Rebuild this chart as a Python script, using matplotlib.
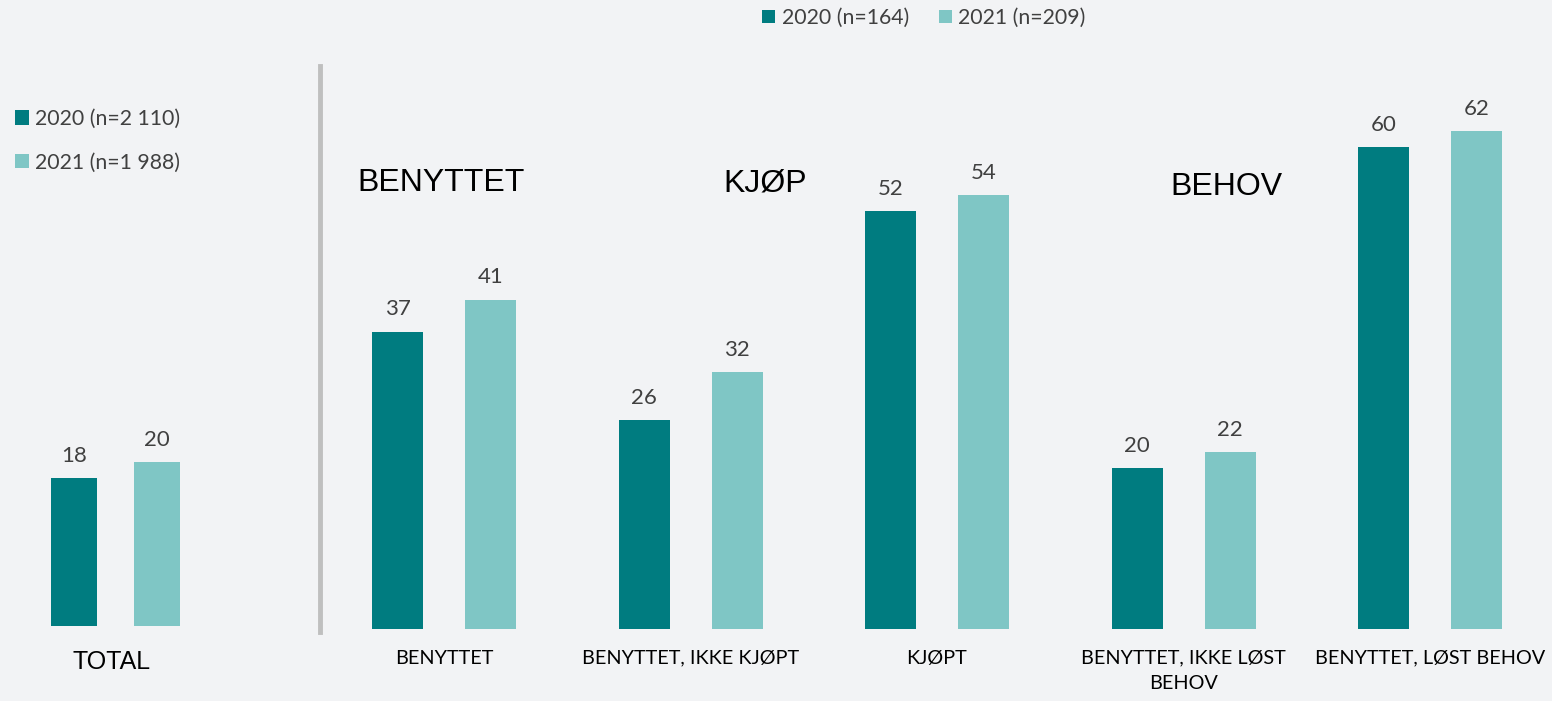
import matplotlib
matplotlib.use("Agg")
import matplotlib.pyplot as plt
from matplotlib.patches import Patch

# Data
total_labels = ["TOTAL"]
total_2020 = [18]
total_2021 = [20]

categories = ["BENYTTET", "BENYTTET, IKKE KJØPT", "KJØPT",
              "BENYTTET, IKKE LØST\nBEHOV", "BENYTTET, LØST BEHOV"]
values_2020 = [37, 26, 52, 20, 60]
values_2021 = [41, 32, 54, 22, 62]

section_titles = ["BENYTTET", "KJØP", "BEHOV"]

legend_total = ["2020 (n=2 110)", "2021 (n=1 988)"]
legend_groups = ["2020 (n=164)", "2021 (n=209)"]

# Style
BG = "#F2F3F5"
DARK = "#007C80"
LIGHT = "#7FC6C5"
VALUE_COLOR = "#404040"
BODY_FONT = ["Lato", "DejaVu Sans"]
HEAD_FONT = ["Liberation Sans", "DejaVu Sans"]

W, H = 1552, 701
fig = plt.figure(figsize=(W / 100, H / 100), dpi=100, facecolor=BG)


def px_axes(left, top, right, bottom):
    return fig.add_axes([left / W, 1 - bottom / H, (right - left) / W, (bottom - top) / H])


def style_axes(ax):
    ax.set_facecolor("none")
    for s in ax.spines.values():
        s.set_visible(False)
    ax.set_yticks([])
    ax.tick_params(axis="x", length=0)


def label_bars(ax, bars, vals):
    for b, v in zip(bars, vals):
        ax.annotate(f"{v}", (b.get_x() + b.get_width() / 2, v),
                    xytext=(0, 9), textcoords="offset points",
                    ha="center", va="bottom", fontsize=16,
                    color=VALUE_COLOR, family=BODY_FONT)


# Left panel: total
axl = px_axes(0, 626 - 70 * 8.2, 320, 626)
style_axes(axl)
axl.set_ylim(0, 70)
axl.set_xlim(-74 / 83, (320 - 74) / 83)
wl = 46 / 83
b1 = axl.bar([0], total_2020, width=wl, color=DARK)
b2 = axl.bar([1], total_2021, width=wl, color=LIGHT)
label_bars(axl, b1, total_2020)
label_bars(axl, b2, total_2021)
axl.set_xticks([0.45])
axl.set_xticklabels(total_labels, fontsize=18, family=HEAD_FONT, color="black")
axl.tick_params(axis="x", pad=17)

# Right panel: groups
axr = px_axes(320.75, 629 - 70 * 8.03, 1553.25, 629)
style_axes(axr)
axr.set_ylim(0, 70)
axr.set_xlim(-0.5, len(categories) - 0.5)
off = 46.5 / 246.5
wr = 51 / 246.5
xs = list(range(len(categories)))
r1 = axr.bar([x - off for x in xs], values_2020, width=wr, color=DARK)
r2 = axr.bar([x + off for x in xs], values_2021, width=wr, color=LIGHT)
label_bars(axr, r1, values_2020)
label_bars(axr, r2, values_2021)
axr.set_xticks(xs)
axr.set_xticklabels(categories, fontsize=14.3, family=BODY_FONT, color="black",
                    linespacing=1.55)
axr.tick_params(axis="x", pad=15)

# Section headers
for title, xp, yp in zip(section_titles, [357, 723, 1170], [183, 183, 187]):
    fig.text(xp / W, 1 - yp / H, title, fontsize=23, family=HEAD_FONT,
             color="black", ha="left", va="center")

# Vertical separator
fig.add_artist(plt.Line2D([320 / W, 320 / W], [1 - 66 / H, 1 - 632 / H],
                          color="#BFBFBF", linewidth=3.5))

# Legends
handles = [Patch(facecolor=DARK), Patch(facecolor=LIGHT)]
leg_top = fig.legend(handles, legend_groups, loc="center left",
                     bbox_to_anchor=(762 / W, 1 - 18 / H), ncol=2, frameon=False,
                     prop={"family": BODY_FONT, "size": 15.3}, labelcolor=VALUE_COLOR,
                     handlelength=0.62, handleheight=0.62, handletextpad=0.3,
                     columnspacing=1.4, borderpad=0, borderaxespad=0)
leg_left = fig.legend(handles, legend_total, loc="upper left",
                      bbox_to_anchor=(15 / W, 1 - 109 / H), ncol=1, frameon=False,
                      prop={"family": BODY_FONT, "size": 15.3}, labelcolor=VALUE_COLOR,
                      handlelength=0.66, handleheight=0.66, handletextpad=0.3,
                      labelspacing=1.1, borderpad=0, borderaxespad=0)

fig.savefig("out.png", dpi=100, facecolor=BG)
